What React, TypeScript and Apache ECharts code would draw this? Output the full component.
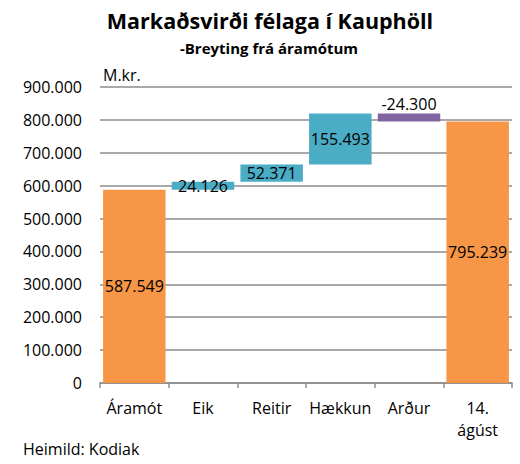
import React, { useEffect, useRef } from "react";
import * as echarts from "echarts";

const categories = ["Áramót", "Eik", "Reitir", "Hækkun", "Arður", "14.\nágúst"];
const changes = [587549, 24126, 52371, 155493, -24300, 795239];
const kinds = ["total", "up", "up", "up", "down", "total"];
const yTicks = { min: 0, max: 900000, interval: 100000 };

const colors: Record<string, string> = {
  total: "#F79646",
  up: "#4BACC6",
  down: "#8064A2",
};

const FONT = "Open Sans";

function fmt(v: number): string {
  const neg = v < 0;
  const s = Math.round(Math.abs(v)).toString().replace(/\B(?=(\d{3})+(?!\d))/g, ".");
  return (neg ? "-" : "") + s;
}

export default function App() {
  const ref = useRef<HTMLDivElement>(null);
  useEffect(() => {
    if (!ref.current) return;
    document.body.style.margin = "0";
    const chart = echarts.init(ref.current, undefined, { renderer: "svg" });

    const bases: number[] = [];
    const heights: number[] = [];
    let running = 0;
    changes.forEach((c, i) => {
      if (kinds[i] === "total") {
        bases.push(0);
        heights.push(c);
        running = c;
      } else if (c >= 0) {
        bases.push(running);
        heights.push(c);
        running += c;
      } else {
        running += c;
        bases.push(running);
        heights.push(-c);
      }
    });

    chart.setOption({
      animation: false,
      textStyle: { fontFamily: FONT },
      title: [
        {
          text: "Markaðsvirði félaga í Kauphöll",
          left: 265,
          top: 4,
          textAlign: "center",
          textStyle: { fontFamily: FONT, fontSize: 21.5, fontWeight: "bold", color: "#000" },
        },
        {
          text: "-Breyting frá áramótum",
          left: 264,
          top: 35,
          textAlign: "center",
          textStyle: { fontFamily: FONT, fontSize: 15, fontWeight: "bold", color: "#000" },
        },
      ],
      graphic: [
        {
          type: "text",
          left: 103,
          top: 67,
          style: { text: "M.kr.", font: `16px "${FONT}"`, fill: "#000" },
        },
        {
          type: "text",
          left: 23,
          top: 441,
          style: { text: "Heimild: Kodiak", font: `16px "${FONT}"`, fill: "#000" },
        },
      ],
      grid: { left: 100, right: 8, top: 87, bottom: 81, containLabel: false },
      xAxis: {
        type: "category",
        data: categories,
        axisLine: { show: true, lineStyle: { color: "#8c8c8c", width: 1.5 } },
        axisTick: { show: true, length: 5, alignWithLabel: false, lineStyle: { color: "#8c8c8c", width: 1.5 } },
        axisLabel: {
          color: "#000",
          fontFamily: FONT,
          fontSize: 16,
          margin: 14,
          lineHeight: 22,
          interval: 0,
        },
      },
      yAxis: {
        type: "value",
        min: yTicks.min,
        max: yTicks.max,
        interval: yTicks.interval,
        axisLine: { show: false },
        axisTick: { show: false },
        splitLine: { lineStyle: { color: "#8c8c8c", width: 1.5 } },
        axisLabel: {
          color: "#000",
          fontFamily: FONT,
          fontSize: 16,
          margin: 18,
          formatter: (v: number) => fmt(v),
        },
      },
      series: [
        {
          type: "bar",
          stack: "w",
          data: bases,
          itemStyle: { color: "transparent" },
          emphasis: { disabled: true },
          silent: true,
          barCategoryGap: "9%",
        },
        {
          type: "bar",
          stack: "w",
          barCategoryGap: "9%",
          data: heights.map((h, i) => ({
            value: h,
            itemStyle: { color: colors[kinds[i]] },
            label: {
              show: true,
              position: kinds[i] === "down" ? "top" : "inside",
              distance: 1,
              formatter: () => fmt(changes[i]),
              color: "#000",
              fontFamily: FONT,
              fontSize: 16,
            },
          })),
        },
      ],
    });
    return () => chart.dispose();
  }, []);
  return <div ref={ref} style={{ width: 520, height: 464 }} />;
}
